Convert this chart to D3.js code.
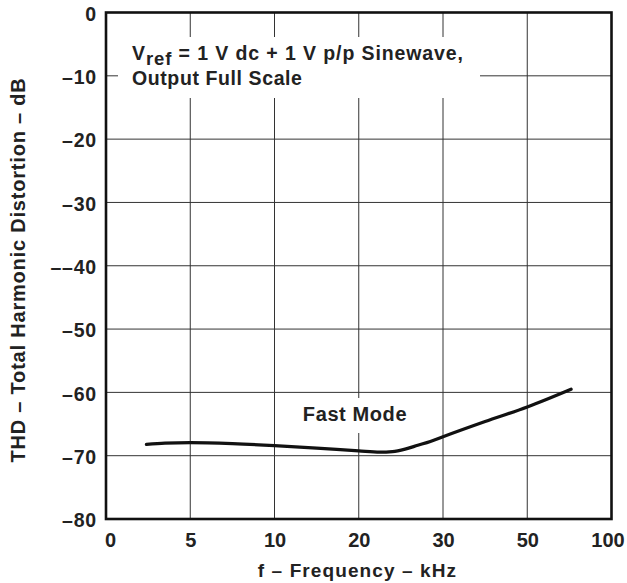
<!DOCTYPE html>
<html>
<head>
<meta charset="utf-8">
<script src="https://cdn.jsdelivr.net/npm/d3@7"></script>
<style>
  html, body { margin: 0; padding: 0; background: #fff; }
  svg { display: block; font-family: "Liberation Sans", Arial, Helvetica, sans-serif; font-weight: bold; }
</style>
</head>
<body>
<svg id="chart" width="627" height="583"></svg>
<script>
// ---- data ----
const xTickValues = [0, 5, 10, 20, 30, 50, 100];
const xTickLabels = ["0", "5", "10", "20", "30", "50", "100"];
const yTickValues = [0, -10, -20, -30, -40, -50, -60, -70, -80];
const yTickLabels = ["0", "\u201310", "\u201320", "\u201330", "\u2013\u201340", "\u201350", "\u201360", "\u201370", "\u201380"];
const frequencyKHz = [2.4, 3.5, 5, 7.5, 10, 15, 20, 22.5, 24, 25.5, 27, 28.5, 30, 40, 50, 76];
const thdDb = [-68.2, -68.0, -67.95, -68.1, -68.4, -68.8, -69.25, -69.45, -69.35, -68.95, -68.35, -67.75, -67.0, -64.6, -62.3, -59.5];
const seriesLabel = "Fast Mode";
const xTitle = "f \u2013 Frequency \u2013 kHz";
const yTitle = "THD \u2013 Total Harmonic Distortion \u2013 dB";

// ---- layout ----
const pL = 106, pR = 611.5, pT = 12.5, pB = 519;
const svg = d3.select("#chart");

const step = (pR - pL) / (xTickValues.length - 1);
const x = d3.scaleLinear()
  .domain(xTickValues)
  .range(xTickValues.map((d, i) => pL + i * step));
const y = d3.scaleLinear().domain([-80, 0]).range([pB, pT]);

// grid
const grid = svg.append("g").attr("stroke", "#333").attr("stroke-width", 1);
grid.selectAll("line.v").data(xTickValues.slice(1, -1)).enter().append("line")
  .attr("x1", d => x(d)).attr("x2", d => x(d))
  .attr("y1", pT).attr("y2", pB);
grid.selectAll("line.h").data(yTickValues.slice(1, -1)).enter().append("line")
  .attr("x1", pL).attr("x2", pR)
  .attr("y1", d => y(d)).attr("y2", d => y(d));

// white boxes behind annotations
svg.append("rect").attr("x", 118).attr("y", 37).attr("width", 362).attr("height", 61).attr("fill", "#fff");
svg.append("rect").attr("x", 296).attr("y", 398).attr("width", 118).attr("height", 35).attr("fill", "#fff");

// frame
svg.append("rect").attr("x", pL).attr("y", pT)
  .attr("width", pR - pL).attr("height", pB - pT)
  .attr("fill", "none").attr("stroke", "#111").attr("stroke-width", 2.6);

// axes labels
const xAxis = d3.axisBottom(x).tickValues(xTickValues)
  .tickFormat((d, i) => xTickLabels[i]).tickSize(0).tickPadding(10);
const gx = svg.append("g").attr("transform", `translate(0,${pB})`).call(xAxis);
gx.select(".domain").remove();
gx.selectAll("text").attr("font-size", 20).attr("font-weight", "bold")
  .attr("font-family", "Liberation Sans, Arial, sans-serif").attr("fill", "#222")
  .attr("dy", "0.88em")
  .attr("dx", (d, i) => i === 0 ? 4 : (i === xTickValues.length - 1 ? -4 : 0));

const yAxis = d3.axisLeft(y).tickValues(yTickValues)
  .tickFormat((d, i) => yTickLabels[i]).tickSize(0).tickPadding(9);
const gy = svg.append("g").attr("transform", `translate(${pL},0)`).call(yAxis);
gy.select(".domain").remove();
gy.selectAll("text").attr("font-size", 19.5).attr("font-weight", "bold")
  .attr("font-family", "Liberation Sans, Arial, sans-serif").attr("fill", "#222")
  .attr("letter-spacing", 0.8).attr("dy", "0.4em");

// titles
svg.append("text").attr("x", 357.5).attr("y", 577).attr("text-anchor", "middle")
  .attr("font-size", 19).attr("letter-spacing", 1.1).attr("fill", "#222").text(xTitle);
svg.append("text").attr("transform", "translate(25,270) rotate(-90)").attr("text-anchor", "middle")
  .attr("font-size", 20).attr("letter-spacing", 0.8).attr("fill", "#222").text(yTitle);

// annotation
const ann = svg.append("text").attr("x", 132).attr("y", 60).attr("font-size", 19.5)
  .attr("letter-spacing", 0.9).attr("fill", "#222");
ann.append("tspan").text("V");
ann.append("tspan").attr("dy", 5).attr("font-size", 18.5).text("ref");
ann.append("tspan").attr("dy", -5).text(" = 1 V dc + 1 V p/p Sinewave,");
svg.append("text").attr("x", 132).attr("y", 85).attr("font-size", 19.5)
  .attr("letter-spacing", 0.6).attr("fill", "#222").text("Output Full Scale");

svg.append("text").attr("x", 355).attr("y", 421).attr("text-anchor", "middle")
  .attr("font-size", 20).attr("letter-spacing", 0.6).attr("fill", "#222").text(seriesLabel);

// curve
const line = d3.line().x(d => x(d[0])).y(d => y(d[1])).curve(d3.curveMonotoneX);
svg.append("path").datum(frequencyKHz.map((f, i) => [f, thdDb[i]]))
  .attr("d", line).attr("fill", "none").attr("stroke", "#111")
  .attr("stroke-width", 3.3).attr("stroke-linecap", "round");
</script>
</body>
</html>
